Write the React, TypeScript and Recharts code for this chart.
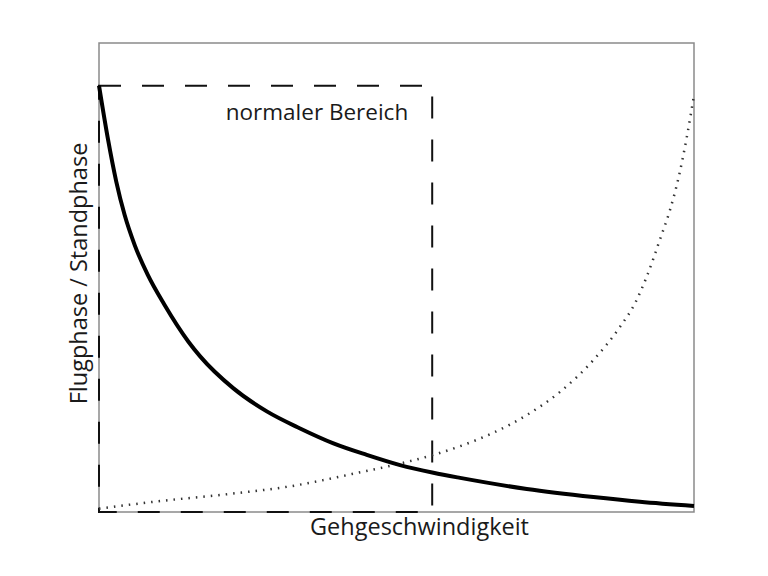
import React from 'react';
import { LineChart, Line, XAxis, YAxis, ReferenceArea } from 'recharts';

// walking speed (0..1) vs. flight/stance ratio
const stanceSpeed = [0, 0.015, 0.029, 0.043, 0.06, 0.082, 0.11, 0.15, 0.17, 0.226, 0.282, 0.338, 0.394, 0.45, 0.506, 0.562, 0.607, 0.719, 0.831, 0.909, 1.0];
const stanceRatio = [1.0, 0.875, 0.775, 0.697, 0.626, 0.556, 0.486, 0.4, 0.365, 0.29, 0.236, 0.196, 0.161, 0.134, 0.11, 0.092, 0.08, 0.054, 0.035, 0.024, 0.014];

const flightSpeed = [0, 0.105, 0.217, 0.329, 0.371, 0.425, 0.495, 0.562, 0.612, 0.663, 0.719, 0.775, 0.831, 0.876, 0.901, 0.92, 0.943, 0.96, 0.975, 0.988, 1.0];
const flightRatio = [0.008, 0.026, 0.042, 0.062, 0.073, 0.089, 0.11, 0.134, 0.157, 0.186, 0.2275, 0.282, 0.3565, 0.435, 0.49, 0.55, 0.64, 0.71, 0.79, 0.88, 0.978];

const normalRange = [0, 0.56];
const normalTop = 1.0;
const yMax = 1.1;

const xTitle = 'Gehgeschwindigkeit';
const yTitle = 'Flugphase / Standphase';
const rangeTitle = 'normaler Bereich';

const stanceData = stanceSpeed.map((x, i) => ({ x, y: stanceRatio[i] }));
const flightData = flightSpeed.map((x, i) => ({ x, y: flightRatio[i] }));

const FONT = '"Open Sans", sans-serif';
const INK = '#1a1a1a';

// axis titles hang off the plot frame
const FrameTitles = (props: any) => {
  const { x, y, width, height } = props.viewBox;
  const ly = y + height / 2 - 4;
  const lx = x - 21;
  return (
    <g fontFamily={FONT} fontSize={23.5} fill={INK}>
      <text x={x + width / 2 + 23} y={y + height + 23} textAnchor="middle">
        {xTitle}
      </text>
      <text x={lx} y={ly} transform={`rotate(-90 ${lx} ${ly})`} textAnchor="middle" dominantBaseline="central">
        {yTitle}
      </text>
    </g>
  );
};

const RangeTitle = (props: any) => {
  const { x, y, width } = props.viewBox;
  return (
    <text x={x + width - 24} y={y + 34} textAnchor="end" fontFamily={FONT} fontSize={22.5} fill={INK}>
      {rangeTitle}
    </text>
  );
};

export default function App() {
  return (
    <LineChart width={760} height={560} margin={{ top: 35, right: 74, bottom: 56, left: 91 }}>
      <XAxis type="number" dataKey="x" domain={[0, 1]} hide />
      <YAxis type="number" dataKey="y" domain={[0, yMax]} hide />
      <ReferenceArea
        x1={0}
        x2={1}
        y1={0}
        y2={yMax}
        fill="none"
        stroke="#8a8a8a"
        strokeWidth={1.5}
        label={<FrameTitles />}
      />
      <ReferenceArea
        x1={normalRange[0]}
        x2={normalRange[1]}
        y1={0}
        y2={normalTop}
        fill="none"
        stroke="#111"
        strokeWidth={2}
        strokeDasharray="22 21"
        label={<RangeTitle />}
      />
      <Line
        data={flightData}
        dataKey="y"
        type="monotone"
        stroke="#333"
        strokeWidth={2.5}
        strokeDasharray="1.5 6"
        dot={false}
        isAnimationActive={false}
      />
      <Line
        data={stanceData}
        dataKey="y"
        type="monotone"
        stroke="#000"
        strokeWidth={4}
        dot={false}
        isAnimationActive={false}
      />
    </LineChart>
  );
}
